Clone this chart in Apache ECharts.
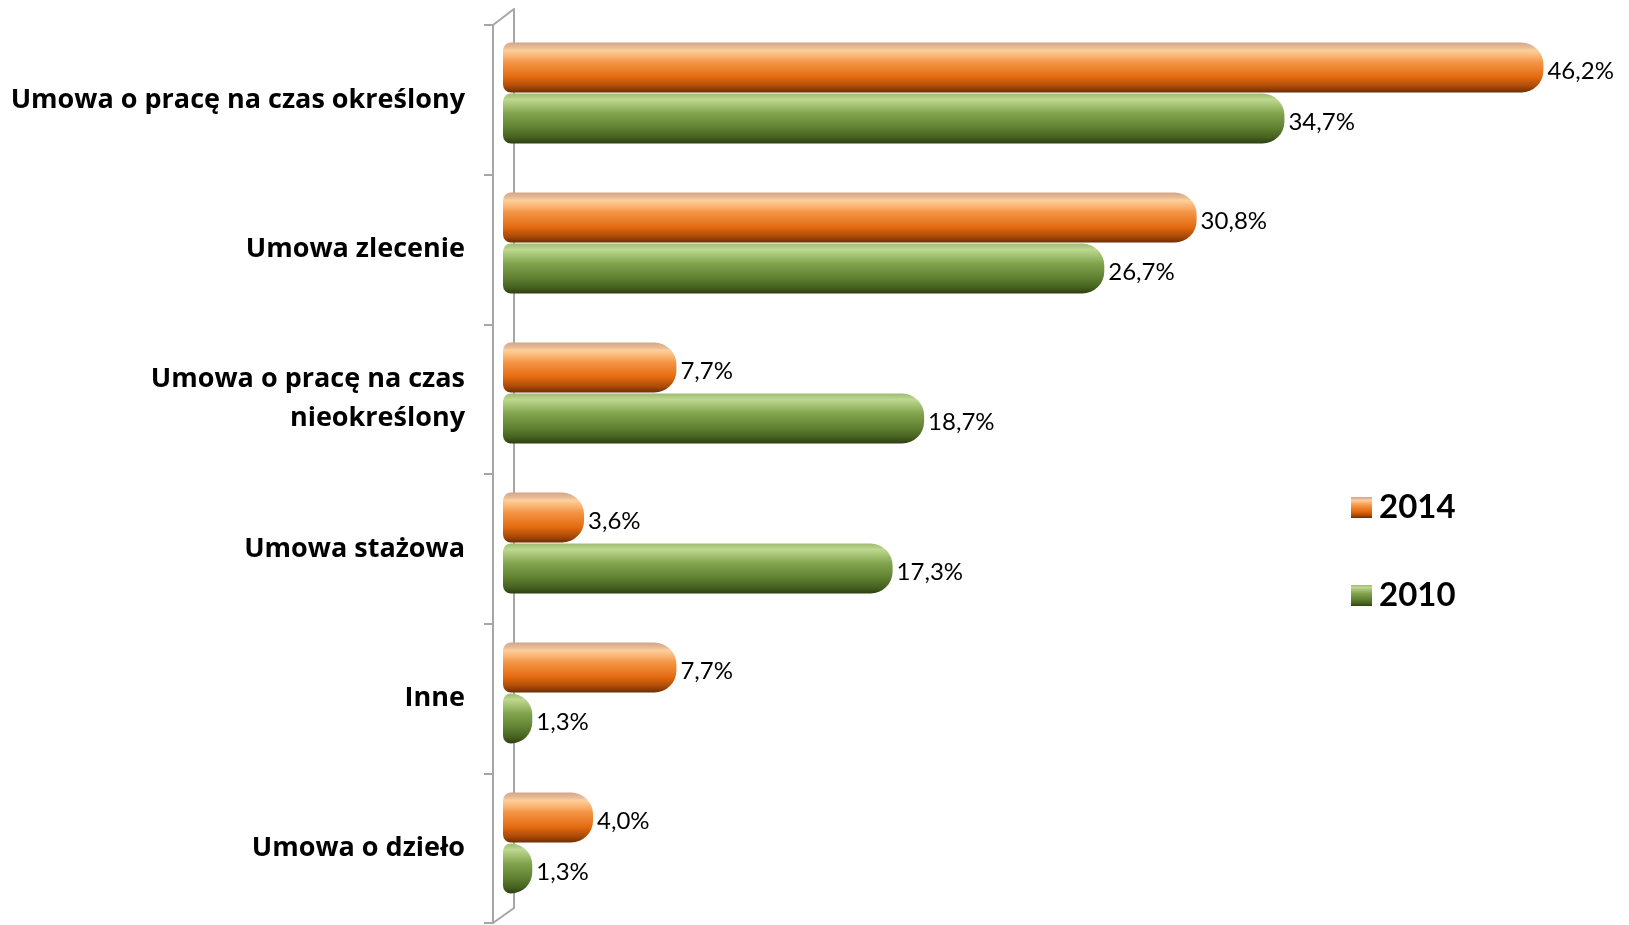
<!DOCTYPE html>
<html><head><meta charset="utf-8">
<script src="https://cdn.jsdelivr.net/npm/echarts@6/dist/echarts.min.js"></script>
<style>html,body{margin:0;padding:0;background:#fff}#c{width:1629px;height:925px}</style>
</head><body><div id="c"></div>
<script>
const categories = ['Umowa o pracę na czas określony','Umowa zlecenie','Umowa o pracę na czas\nnieokreślony','Umowa stażowa','Inne','Umowa o dzieło'];
const seriesNames = ['2014','2010'];
const values2014 = [46.2, 30.8, 7.7, 3.6, 7.7, 4.0];
const values2010 = [34.7, 26.7, 18.7, 17.3, 1.3, 1.3];

const chart = echarts.init(document.getElementById('c'), null, {renderer:'canvas'});
const G = echarts.graphic.LinearGradient;
const orange = new G(0,0,0,1,[
  {offset:0,color:'#D3A587'},{offset:0.1,color:'#E9BC98'},{offset:0.16,color:'#FFCF9A'},
  {offset:0.4,color:'#F49545'},{offset:0.7,color:'#E3690F'},{offset:0.88,color:'#A94A08'},{offset:1,color:'#6E2E02'}]);
const green = new G(0,0,0,1,[
  {offset:0,color:'#9FBC75'},{offset:0.12,color:'#BDD88E'},{offset:0.4,color:'#82A44E'},
  {offset:0.7,color:'#5E7F30'},{offset:0.88,color:'#45601F'},{offset:1,color:'#2D3F12'}]);
const colors = [orange, green];
const dataSets = [values2014, values2010];
const fmt = v => v.toFixed(1).replace('.', ',') + '%';

const axisGray = '#A6A6A6';
chart.setOption({
  animation:false,
  grid:[
    {left:493, top:25, height:898, width:1100},
    {left:514, top:9, height:899, width:1100},
    {left:503, top:18, height:900, width:1128}
  ],
  xAxis:[0,1,2].map(i=>({type:'value', gridIndex:i, min:0, max:50, show:false})),
  yAxis:[
    {type:'category', gridIndex:0, inverse:true, data:categories,
      axisLine:{show:true, lineStyle:{color:axisGray, width:2}},
      axisTick:{show:true, length:9, lineStyle:{color:axisGray, width:2}},
      axisLabel:{margin:28, color:'#000', fontFamily:'Open Sans', fontWeight:'bold', fontSize:27, lineHeight:39, align:'right', padding:[6,0,0,0]},
      splitLine:{show:false}},
    {type:'category', gridIndex:1, inverse:true, data:categories,
      axisLine:{show:true, lineStyle:{color:axisGray, width:2}},
      axisTick:{show:false}, axisLabel:{show:false}, splitLine:{show:false}},
    {type:'category', gridIndex:2, inverse:true, data:categories, show:false}
  ],
  legend:{
    orient:'vertical', left:1346, top:486, itemWidth:21, itemHeight:21, itemGap:55,
    icon:'rect',
    textStyle:{fontFamily:'Lato', fontWeight:'bold', fontSize:33, lineHeight:33, color:'#000', padding:[0,0,0,2]},
    data:seriesNames
  },
  graphic:[
    {type:'line', shape:{x1:493,y1:25,x2:514,y2:9}, style:{stroke:axisGray, lineWidth:2}},
    {type:'line', shape:{x1:493,y1:923,x2:514,y2:908}, style:{stroke:axisGray, lineWidth:2}}
  ],
  series: seriesNames.map((n,i)=>({
    name:n, type:'bar', xAxisIndex:2, yAxisIndex:2,
    data:dataSets[i], barWidth:50, barGap:'2%',
    itemStyle:{color:colors[i], borderRadius:[8,22,22,8]},
    label:{show:true, position:'right', distance:4, offset:[0,4], color:'#000',
      fontFamily:'Lato', fontSize:24, formatter:p=>fmt(p.value)}
  }))
});
</script></body></html>
